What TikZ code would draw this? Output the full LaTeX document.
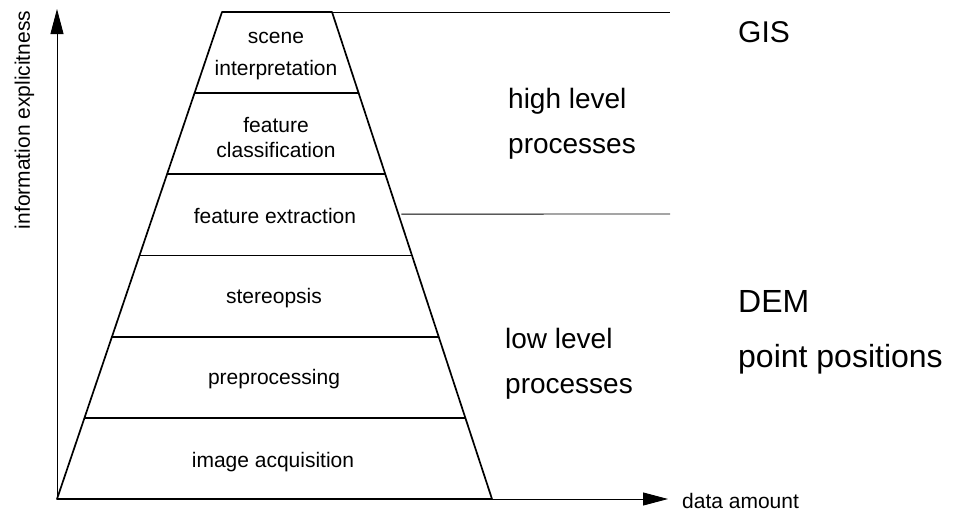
\documentclass[tikz,border=0pt]{standalone}
\usepackage{fontspec}
\setmainfont{Liberation Sans}
\usetikzlibrary{arrows.meta,calc}
\begin{document}
\begin{tikzpicture}[x=1pt,y=-1pt,
  pyr/.style={line width=1.7pt, line join=round},
  axisline/.style={line width=0.9pt, -{Triangle[length=25pt,width=13pt]}},
  guide/.style={line width=0.9pt},
  lay/.style={font=\fontsize{21}{25}\selectfont, anchor=base, inner sep=0pt},
  side/.style={font=\fontsize{28}{34}\selectfont, anchor=base west, inner sep=0pt},
  sidebig/.style={font=\fontsize{32}{38}\selectfont, anchor=base west, inner sep=0pt},
  axlabel/.style={font=\fontsize{21}{25}\selectfont, inner sep=0pt}]
\useasboundingbox (0,0) rectangle (959,514);
% pyramid corners
\coordinate (BL) at (57,499);
\coordinate (BR) at (492,499);
\coordinate (TR) at (332,12);
\coordinate (TL) at (222,12);
% axes
\coordinate (ytop) at (57,9);
\coordinate (xend) at (668,499);
\draw[axisline] (BL) -- (ytop);
\draw[axisline] (BL) -- (xend);
% pyramid
\draw[pyr] (BL) -- (BR) -- (TR) -- (TL) -- cycle;
\foreach \k in {1,...,5} {
  \draw[pyr] ($(BL)!\k/6!(TL)$) -- ($(BR)!\k/6!(TR)$);
}
% guide lines
\coordinate (g1) at (670,12);
\coordinate (g2s) at ($(BR)!0.585!(TR)+(3,0)$);
\coordinate (g2) at (670,214);
\draw[guide] (TR) -- (g1);
\draw[guide] (g2s) -- (g2);
% layer labels
\node[lay] (scene) at (276,43) {scene};
\node[lay] (interp) at (276,75) {interpretation};
\node[lay] (feat) at (276,132) {feature};
\node[lay] (classif) at (276,157) {classification};
\node[lay] (extract) at (275,223) {feature extraction};
\node[lay] (stereo) at (274,303) {stereopsis};
\node[lay] (prep) at (274,384) {preprocessing};
\node[lay] (acq) at (273,467) {image acquisition};
% side labels
\node[side, font=\fontsize{30}{36}\selectfont] (gis) at (738,42) {GIS};
\node[side] (hl1) at (508,108) {high level};
\node[side] (hl2) at (508,153) {processes};
\node[side] (ll1) at (505,348) {low level};
\node[side] (ll2) at (505,393) {processes};
\node[sidebig] (dem) at (738,312) {DEM};
\node[sidebig] (pp) at (738,367) {point positions};
% axis labels
\node[axlabel, anchor=base west] (xlab) at (682,508) {data amount};
\node[axlabel, rotate=90, anchor=base] (ylab) at (30,120) {information explicitness};
\end{tikzpicture}
\end{document}
